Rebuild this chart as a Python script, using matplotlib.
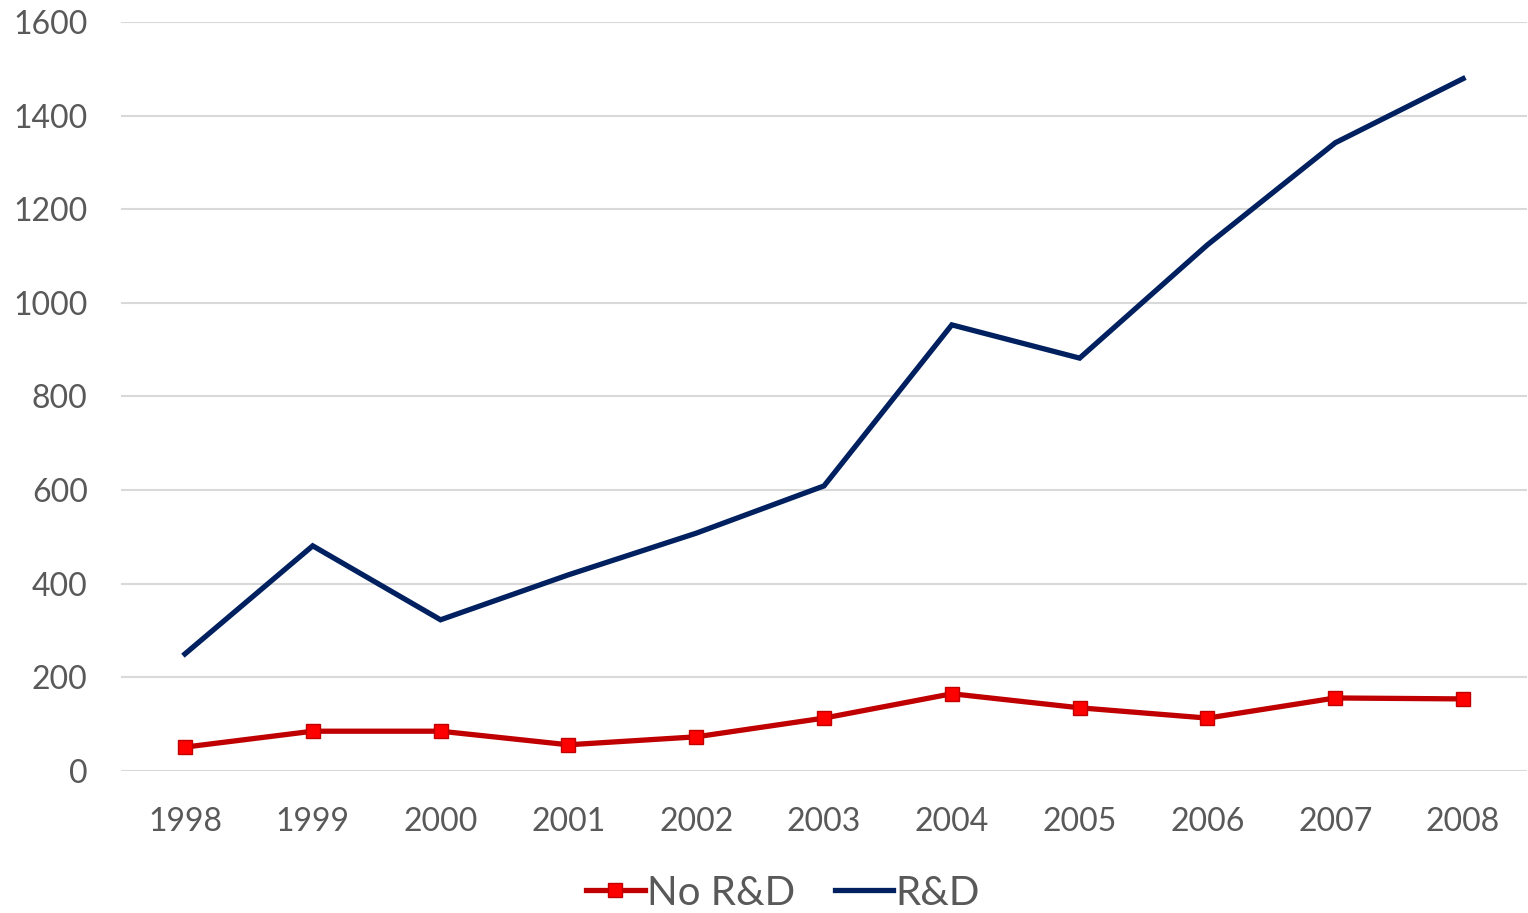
import matplotlib

matplotlib.use("Agg")
import matplotlib.pyplot as plt
import numpy as np

years = ["1998", "1999", "2000", "2001", "2002", "2003", "2004", "2005", "2006", "2007", "2008"]
no_rd = [51, 85, 85, 56, 73, 113, 165, 135, 113, 156, 154]
rd = [250, 481, 323, 419, 508, 609, 953, 882, 1124, 1342, 1479]
y_ticks = [0, 200, 400, 600, 800, 1000, 1200, 1400, 1600]

TEXT = "#595959"
GRID = "#d9d9d9"
RED_LINE = "#c00000"
RED_FILL = "#ff0000"
NAVY = "#002060"

plt.rcParams["font.family"] = ["Lato", "DejaVu Sans"]

W, H = 1528, 913
fig = plt.figure(figsize=(W / 100, H / 100), dpi=100, facecolor="white")
ax = fig.add_axes([121 / W, 1 - 771 / H, (1527 - 121) / W, (771 - 22) / H])

x = np.arange(len(years))
ax.plot(x, no_rd, color=RED_LINE, lw=3.8, marker="s", ms=10.5,
        mfc=RED_FILL, mec=RED_LINE, mew=1, label="No R&D", solid_joinstyle="round", zorder=3)
ax.plot(x, rd, color=NAVY, lw=3.8, label="R&D", solid_joinstyle="miter", zorder=3)

ax.set_xlim(-0.5, len(years) - 0.5)
ax.set_ylim(0, 1600)
ax.set_yticks(y_ticks)
ax.set_xticks(x, years)
ax.grid(axis="y", color=GRID, lw=1.5)
ax.set_axisbelow(True)
for s in ax.spines.values():
    s.set_visible(False)
ax.tick_params(length=0, labelsize=23, colors=TEXT)
ax.tick_params(axis="y", pad=24)
ax.tick_params(axis="x", pad=26)

leg = ax.legend(loc="center", bbox_to_anchor=((783 - 121) / (1527 - 121), (771 - 893) / (771 - 22)),
                ncol=2, frameon=False, fontsize=29, handlelength=1.45, handletextpad=0.05,
                columnspacing=1.0, labelcolor=TEXT)

fig.savefig("out.png", dpi=100, facecolor="white")
